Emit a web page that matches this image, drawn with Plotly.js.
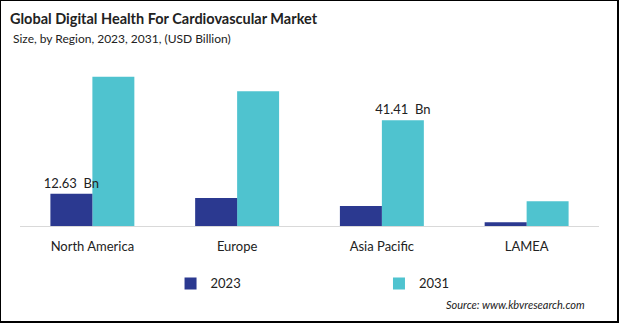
<!DOCTYPE html>
<html>
<head>
<meta charset="utf-8">
<script src="https://cdn.plot.ly/plotly-3.0.1.min.js"></script>
<style>
html,body{margin:0;padding:0;background:#fff;}
#wrap{position:relative;width:619px;height:323px;}
#chart{width:619px;height:323px;}
#frame{position:absolute;left:0;top:0;width:619px;height:323px;box-sizing:border-box;border-left:1px solid #000;border-top:1px solid #000;border-right:2px solid #000;border-bottom:2px solid #000;pointer-events:none;}
</style>
</head>
<body>
<div id="wrap"><div id="chart"></div><div id="frame"></div></div>
<script>
const categories = ["North America", "Europe", "Asia Pacific", "LAMEA"];
const values2023 = [12.63, 11.0, 7.8, 1.5];
const values2031 = [58.4, 52.8, 41.41, 9.7];
const labels2023 = ["12.63\u00a0 Bn", "", "", ""];
const labels2031 = ["", "", "41.41\u00a0 Bn", ""];

const FONT = "Lato, 'Open Sans', sans-serif";
const BW = 0.29;

const traces = [
  {
    type: "bar", name: "2031", x: categories, y: values2031,
    marker: {color: "#4FC3CF"}, width: BW, offset: 0,
    text: labels2031, textposition: "outside", cliponaxis: false, constraintext: "none",
    textfont: {family: FONT, size: 13, color: "#222"},
    legend: "legend2", hoverinfo: "x+y"
  },
  {
    type: "bar", name: "2023", x: categories, y: values2023,
    marker: {color: "#2B3990"}, width: BW, offset: -BW,
    text: labels2023, textposition: "outside", cliponaxis: false, constraintext: "none",
    textfont: {family: FONT, size: 13, color: "#222"},
    legend: "legend", hoverinfo: "x+y"
  }
];

const layout = {
  width: 619, height: 323,
  margin: {l: 19.5, r: 19.5, t: 60, b: 97},
  paper_bgcolor: "#fff", plot_bgcolor: "#fff",
  font: {family: FONT, color: "#222"},
  barmode: "overlay",
  title: {
    text: "<b>Global Digital Health For Cardiovascular Market</b>",
    font: {family: FONT, size: 14.5, color: "#222"},
    x: 10/619, xref: "container", xanchor: "left", yref: "container", y: 1 - 19/323, yanchor: "middle"
  },
  xaxis: {
    showline: true, linecolor: "#d9d9d9", linewidth: 1,
    showgrid: false, zeroline: false, ticks: "",
    tickfont: {family: FONT, size: 13, color: "#222"},
    ticklabelstandoff: 8, fixedrange: true, range: [-0.5, 3.5]
  },
  yaxis: {
    range: [0, 65], visible: false, showgrid: false, zeroline: false, fixedrange: true
  },
  showlegend: true,
  legend: {
    orientation: "h", x: 0.26, xanchor: "left", y: -0.346, yanchor: "middle",
    font: {family: FONT, size: 13, color: "#222"}, itemwidth: 30, bgcolor: "rgba(0,0,0,0)"
  },
  legend2: {
    orientation: "h", x: 0.62, xanchor: "left", y: -0.346, yanchor: "middle",
    font: {family: FONT, size: 13, color: "#222"}, itemwidth: 30, bgcolor: "rgba(0,0,0,0)"
  },
  annotations: [
    {
      text: "Size, by Region, 2023, 2031, (USD Billion)",
      xref: "paper", yref: "paper", x: -9.5/580, y: 1 + (60 - 39)/165.9,
      xanchor: "left", yanchor: "middle", showarrow: false,
      font: {family: FONT, size: 12, color: "#222"}
    },
    {
      text: "<i>Source: www.kbvresearch.com</i>",
      xref: "paper", yref: "paper", x: (587 - 19.5)/580, y: -(304 - 225.9)/165.9,
      xanchor: "right", yanchor: "middle", showarrow: false,
      font: {family: FONT, size: 11, color: "#222"}
    }
  ]
};

Plotly.newPlot("chart", traces, layout, {staticPlot: true, displayModeBar: false});
</script>
</body>
</html>
